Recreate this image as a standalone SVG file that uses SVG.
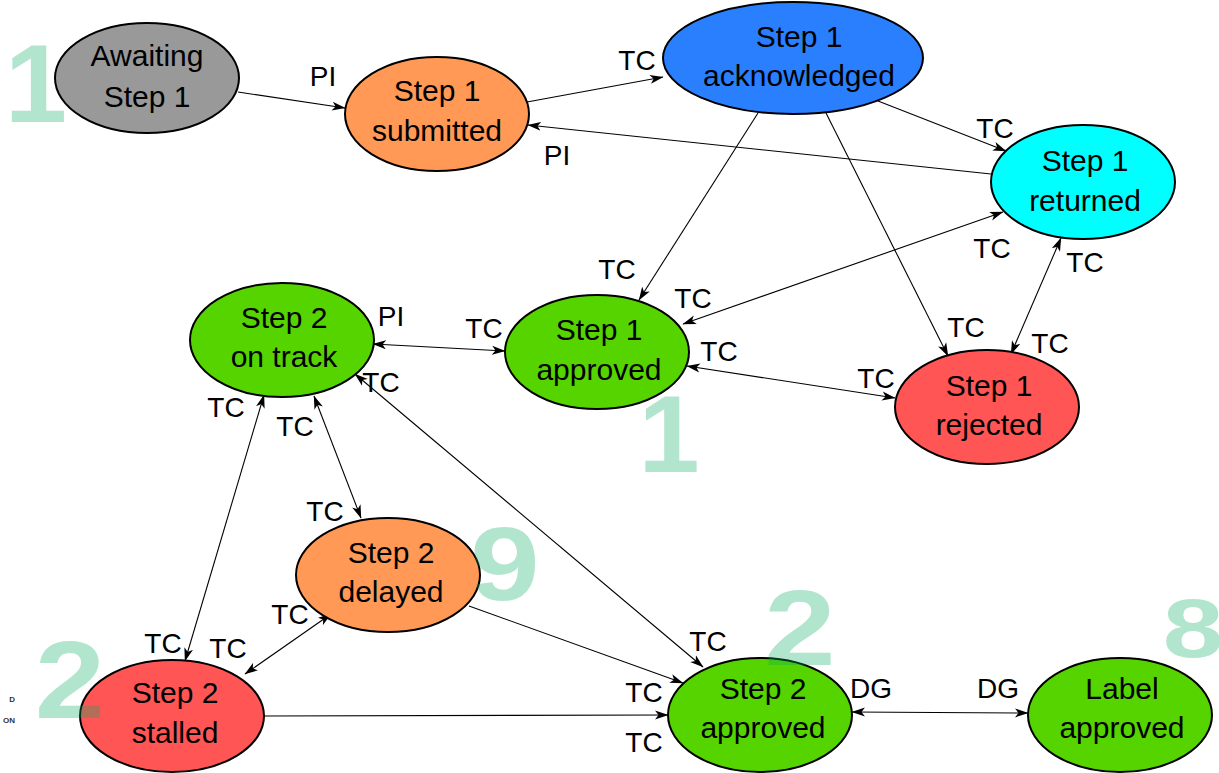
<svg xmlns="http://www.w3.org/2000/svg" width="1219" height="773" viewBox="0 0 1219 773">
<defs>
<marker id="ah" viewBox="0 0 14 10" markerWidth="14" markerHeight="10" refX="13" refY="5" orient="auto-start-reverse" markerUnits="userSpaceOnUse">
<path d="M0,0.5 L13.5,5 L0,9.5 L3.5,5 z" fill="#000"/>
</marker>
<style>
.n{stroke:#000;stroke-width:2}
.t{font-family:"Liberation Sans",Arial,sans-serif;font-size:30px;fill:#000;text-anchor:middle}
.l{font-family:"Liberation Sans",Arial,sans-serif;font-size:28px;fill:#000;text-anchor:middle}
.c{stroke:#000;stroke-width:1.1;fill:none}
.wm{font-family:"Liberation Sans",Arial,sans-serif;font-weight:bold;fill:#00aa5a;fill-opacity:0.3;text-anchor:middle}
.sm{font-family:"Liberation Sans",Arial,sans-serif;font-weight:bold;font-size:8px;fill:#333;text-anchor:end}
</style>
</defs>
<rect width="1219" height="773" fill="#fff"/>
<g id="connectors">
<path class="c" d="M238,92 L345,108" marker-end="url(#ah)"/>
<path class="c" d="M527,102 L663,77" marker-end="url(#ah)"/>
<path class="c" d="M991,174 L528,125" marker-end="url(#ah)"/>
<path class="c" d="M878,101 L1006,151" marker-end="url(#ah)"/>
<path class="c" d="M758,113 L639,300" marker-end="url(#ah)"/>
<path class="c" d="M826,113 L948,356" marker-end="url(#ah)"/>
<path class="c" d="M1003,212 L683,324" marker-start="url(#ah)" marker-end="url(#ah)"/>
<path class="c" d="M1061,238 L1011,354" marker-start="url(#ah)" marker-end="url(#ah)"/>
<path class="c" d="M373,344 L505,351" marker-start="url(#ah)" marker-end="url(#ah)"/>
<path class="c" d="M687,366 L895,398" marker-start="url(#ah)" marker-end="url(#ah)"/>
<path class="c" d="M264,395 L185,661" marker-start="url(#ah)" marker-end="url(#ah)"/>
<path class="c" d="M314,396 L361,518" marker-start="url(#ah)" marker-end="url(#ah)"/>
<path class="c" d="M355,374 L703,667" marker-start="url(#ah)" marker-end="url(#ah)"/>
<path class="c" d="M245,674 L331,614" marker-start="url(#ah)" marker-end="url(#ah)"/>
<path class="c" d="M469,606 L683,683" marker-end="url(#ah)"/>
<path class="c" d="M264,716 L668,715" marker-end="url(#ah)"/>
<path class="c" d="M852,712 L1028,713" marker-start="url(#ah)" marker-end="url(#ah)"/>
<g id="connector-labels">
<text class="l" x="323" y="86">PI</text>
<text class="l" x="637" y="70">TC</text>
<text class="l" x="557" y="165">PI</text>
<text class="l" x="995" y="138">TC</text>
<text class="l" x="617" y="279">TC</text>
<text class="l" x="966" y="337">TC</text>
<text class="l" x="992" y="258">TC</text>
<text class="l" x="693" y="308">TC</text>
<text class="l" x="1085" y="272">TC</text>
<text class="l" x="1050" y="353">TC</text>
<text class="l" x="391" y="326">PI</text>
<text class="l" x="484" y="338">TC</text>
<text class="l" x="719" y="361">TC</text>
<text class="l" x="876" y="388">TC</text>
<text class="l" x="226" y="417">TC</text>
<text class="l" x="295" y="436">TC</text>
<text class="l" x="381" y="392">TC</text>
<text class="l" x="325" y="521">TC</text>
<text class="l" x="163" y="653">TC</text>
<text class="l" x="228" y="658">TC</text>
<text class="l" x="290" y="624">TC</text>
<text class="l" x="708" y="651">TC</text>
<text class="l" x="644" y="702">TC</text>
<text class="l" x="644" y="752">TC</text>
<text class="l" x="871" y="698">DG</text>
<text class="l" x="998" y="698">DG</text>
</g>
</g>
<g id="awaiting-step1"><ellipse class="n" cx="147" cy="78" rx="92" ry="55" fill="#999999"/><text class="t" x="147" y="66">Awaiting</text><text class="t" x="147" y="107">Step 1</text></g>
<g id="step1-submitted"><ellipse class="n" cx="437" cy="114" rx="92" ry="57" fill="#ff9955"/><text class="t" x="437" y="101">Step 1</text><text class="t" x="437" y="141">submitted</text></g>
<g id="step1-acknowledged"><ellipse class="n" cx="793" cy="58" rx="130" ry="56" fill="#2a7fff"/><text class="t" x="799" y="47">Step 1</text><text class="t" x="799" y="86">acknowledged</text></g>
<g id="step1-returned"><ellipse class="n" cx="1083" cy="182" rx="92" ry="57" fill="#00ffff"/><text class="t" x="1085" y="171">Step 1</text><text class="t" x="1085" y="211">returned</text></g>
<g id="step1-approved"><ellipse class="n" cx="597" cy="352" rx="92" ry="57" fill="#55d400"/><text class="t" x="599" y="340">Step 1</text><text class="t" x="599" y="380">approved</text></g>
<g id="step2-on-track"><ellipse class="n" cx="282" cy="340" rx="92" ry="57" fill="#55d400"/><text class="t" x="284" y="328">Step 2</text><text class="t" x="284" y="367">on track</text></g>
<g id="step1-rejected"><ellipse class="n" cx="987" cy="407" rx="92" ry="57" fill="#ff5555"/><text class="t" x="989" y="396">Step 1</text><text class="t" x="989" y="435">rejected</text></g>
<g id="step2-delayed"><ellipse class="n" cx="388" cy="575" rx="92" ry="57" fill="#ff9955"/><text class="t" x="391" y="563">Step 2</text><text class="t" x="391" y="602">delayed</text></g>
<g id="step2-stalled"><ellipse class="n" cx="172" cy="716" rx="92" ry="56" fill="#ff5555"/><text class="t" x="175" y="703">Step 2</text><text class="t" x="175" y="743">stalled</text></g>
<g id="step2-approved"><ellipse class="n" cx="760" cy="715" rx="92" ry="57" fill="#55d400"/><text class="t" x="763" y="699">Step 2</text><text class="t" x="763" y="738">approved</text></g>
<g id="label-approved"><ellipse class="n" cx="1120" cy="715" rx="92" ry="57" fill="#55d400"/><text class="t" x="1122" y="699">Label</text><text class="t" x="1122" y="738">approved</text></g>
<g id="watermarks">
<text class="wm" x="36" y="122" font-size="112">1</text>
<text class="wm" x="669" y="472" font-size="110">1</text>
<text class="wm" transform="translate(505,600) scale(1.2,1)" x="0" y="0" font-size="104">9</text>
<text class="wm" transform="translate(800,665) scale(1.2,1)" x="0" y="0" font-size="107">2</text>
<text class="wm" transform="translate(70,718) scale(1.15,1)" x="0" y="0" font-size="110">2</text>
<text class="wm" transform="translate(1193,657) scale(1.3,1)" x="0" y="0" font-size="84">8</text>
<text class="sm" x="15" y="702">D</text>
<text class="sm" x="15" y="723">ON</text>
</g>
</svg>
